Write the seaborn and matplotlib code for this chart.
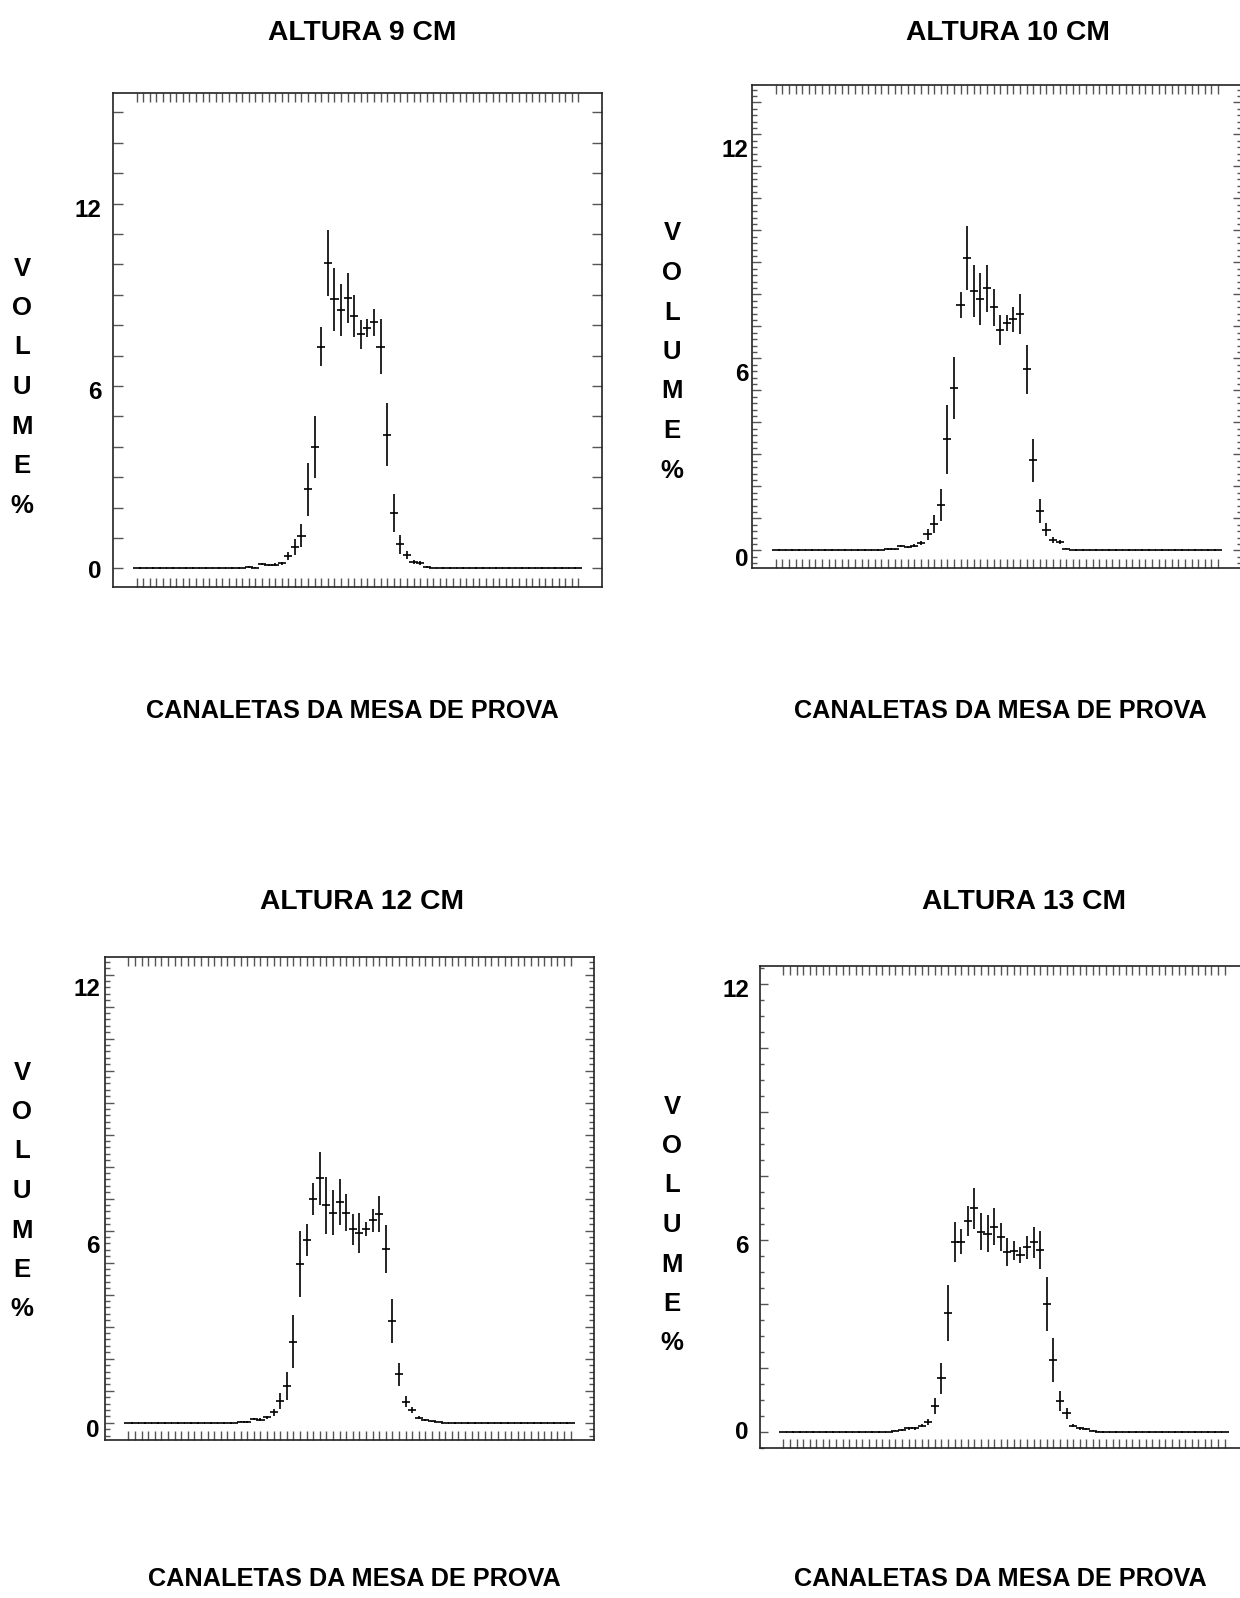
import numpy as np
import matplotlib
matplotlib.use("Agg")
import matplotlib.pyplot as plt
import matplotlib.ticker as mticker
import matplotlib.transforms as mtransforms
import seaborn as sns

sns.set_theme(style="ticks")
plt.rcParams['font.family'] = ['Liberation Sans', 'DejaVu Sans']
plt.rcParams['font.weight'] = 'bold'

# Dados: % de volume por canaleta (68 canaletas, valores a partir da canaleta 18)
N_CANALETAS = 68
PRIMEIRA = 18

titulos = ["ALTURA 9 CM", "ALTURA 10 CM", "ALTURA 12 CM", "ALTURA 13 CM"]
rotulo_x = "CANALETAS DA MESA DE PROVA"
rotulo_y = "VOLUME%"
rotulos_y = ["0", "6", "12"]

vol_9 = [0.05, 0.03, 0.15, 0.12, 0.13, 0.17, 0.40, 0.70, 1.08, 2.60, 4.00, 7.30, 10.05, 8.85,
         8.50, 8.90, 8.30, 7.70, 7.90, 8.10, 7.30, 4.40, 1.83, 0.80, 0.43, 0.22, 0.18, 0.05]
err_9 = [0.03, 0.02, 0.04, 0.04, 0.04, 0.05, 0.13, 0.26, 0.38, 0.88, 1.02, 0.64, 1.08, 1.03,
         0.86, 0.82, 0.70, 0.47, 0.30, 0.44, 0.90, 1.03, 0.63, 0.31, 0.13, 0.07, 0.06, 0.03]

vol_10 = [0.04, 0.03, 0.14, 0.11, 0.15, 0.24, 0.50, 0.83, 1.42, 3.47, 5.08, 7.66, 9.13, 8.10, 7.86,
          8.19, 7.60, 6.89, 7.09, 7.22, 7.39, 5.66, 2.82, 1.23, 0.64, 0.32, 0.25, 0.05, 0.01]
err_10 = [0.02, 0.02, 0.04, 0.04, 0.05, 0.06, 0.17, 0.29, 0.50, 1.08, 0.96, 0.40, 1.01, 0.81, 0.81,
          0.73, 0.58, 0.47, 0.25, 0.39, 0.62, 0.77, 0.67, 0.38, 0.20, 0.10, 0.06, 0.02, 0.01]

vol_12 = [0.03, 0.02, 0.11, 0.10, 0.17, 0.32, 0.68, 1.15, 2.53, 4.96, 5.70, 6.98, 7.64, 6.80, 6.56, 6.90,
          6.56, 6.04, 5.92, 6.05, 6.33, 6.52, 5.43, 3.18, 1.52, 0.66, 0.40, 0.16, 0.08, 0.04, 0.02]
err_12 = [0.02, 0.02, 0.04, 0.04, 0.05, 0.10, 0.25, 0.43, 0.83, 1.04, 0.50, 0.50, 0.83, 0.89, 0.71, 0.72,
          0.57, 0.48, 0.63, 0.21, 0.36, 0.57, 0.74, 0.68, 0.36, 0.17, 0.10, 0.04, 0.03, 0.02, 0.01]

vol_13 = [0.05, 0.07, 0.12, 0.12, 0.20, 0.33, 0.83, 1.69, 3.72, 5.94, 5.96, 6.60, 7.00, 6.27, 6.20, 6.43,
          6.11, 5.63, 5.68, 5.54, 5.78, 5.94, 5.70, 4.01, 2.26, 0.98, 0.59, 0.20, 0.12, 0.10, 0.05, 0.02]
err_13 = [0.02, 0.03, 0.04, 0.04, 0.05, 0.10, 0.25, 0.48, 0.88, 0.62, 0.40, 0.47, 0.64, 0.57, 0.58, 0.59,
          0.43, 0.44, 0.31, 0.25, 0.35, 0.48, 0.59, 0.85, 0.68, 0.30, 0.17, 0.05, 0.04, 0.03, 0.02, 0.01]

volumes = [vol_9, vol_10, vol_12, vol_13]
erros = [err_9, err_10, err_12, err_13]

# Layout de cada painel (em pixels da figura 1240x1598)
W, H = 1240, 1598
paineis = [
    dict(caixa=(113.3, 93.3, 601.7, 586.7), ylim=(-0.6, 15.63), maior=1, menor=None,
         tam=(7.2, 0), rot_pos=[-0.11, 5.78, 11.77], pad=11.5,
         titulo=(362, 33), xlab=(352, 711), ylab=(22, 387)),
    dict(caixa=(752.3, 84.7, 1241.5, 568.3), ylim=(-0.56, 14.55), maior=1, menor=0.2,
         tam=(6.8, 3.4), rot_pos=[-0.3, 5.48, 12.5], pad=4,
         titulo=(1008, 33), xlab=(1000, 711), ylab=(672, 352)),
    dict(caixa=(105, 957.3, 594, 1440), ylim=(-0.54, 14.54), maior=1, menor=0.2,
         tam=(6.8, 3.8), rot_pos=[-0.23, 5.5, 13.52], pad=5,
         titulo=(362, 902), xlab=(354, 1579), ylab=(22, 1191)),
    dict(caixa=(760, 965.7, 1248, 1448.3), ylim=(-0.5, 14.58), maior=2, menor=0.5,
         tam=(6.0, 3.1), rot_pos=[-0.01, 5.82, 13.82], pad=11,
         titulo=(1024, 902), xlab=(1000, 1579), ylab=(672, 1225)),
]

fig = plt.figure(figsize=(W / 100, H / 100), dpi=100, facecolor='white')
canaletas = np.arange(1, N_CANALETAS + 1)


def completa(valores):
    serie = np.zeros(N_CANALETAS)
    serie[PRIMEIRA - 1:PRIMEIRA - 1 + len(valores)] = valores
    return serie


for titulo, vol, err, p in zip(titulos, volumes, erros, paineis):
    x0, y0, x1, y1 = p['caixa']
    ax = fig.add_axes([x0 / W, 1 - y1 / H, (x1 - x0) / W, (y1 - y0) / H])
    ax.set_facecolor('white')

    # Histograma com barras de erro (estilo cruz)
    ax.errorbar(canaletas, completa(vol), xerr=0.62, yerr=completa(err), fmt='none',
                ecolor='black', elinewidth=1.2, capsize=0)

    ax.set_xlim(-2.55, N_CANALETAS + 3.55)
    ax.set_ylim(*p['ylim'])

    # Ticks
    ax.xaxis.set_major_locator(mticker.FixedLocator(canaletas))
    ax.xaxis.set_minor_locator(mticker.NullLocator())
    ax.tick_params(axis='x', which='major', direction='in', top=True, bottom=True,
                   labelbottom=False, labeltop=False, length=6.5, width=1.0, color='#555555')
    ax.yaxis.set_major_locator(mticker.MultipleLocator(p['maior']))
    if p['menor']:
        ax.yaxis.set_minor_locator(mticker.MultipleLocator(p['menor']))
    else:
        ax.yaxis.set_minor_locator(mticker.NullLocator())
    ax.tick_params(axis='y', which='major', direction='in', left=True, right=True,
                   labelleft=False, length=p['tam'][0], width=1.0, color='#555555')
    ax.tick_params(axis='y', which='minor', direction='in', left=True, right=True,
                   length=p['tam'][1], width=1.0, color='#555555')

    for sp in ax.spines.values():
        sp.set_linewidth(1.2)
        sp.set_color('#222222')
        sp.set_visible(True)
    ax.grid(False)

    # Rótulos do eixo y (0, 6, 12)
    trans = mtransforms.blended_transform_factory(ax.transAxes, ax.transData) + \
        mtransforms.ScaledTranslation(-p['pad'] / 100, 0, fig.dpi_scale_trans)
    for txt, pos in zip(rotulos_y, p['rot_pos']):
        ax.text(0, pos, txt, transform=trans, ha='right', va='center',
                fontsize=17.5, fontweight='bold', color='black')

    # Títulos e rótulos
    tx, ty = p['titulo']
    fig.text(tx / W, 1 - ty / H, titulo, ha='center', va='center',
             fontsize=20.3, fontweight='bold', color='black')
    lx, ly = p['xlab']
    fig.text(lx / W, 1 - ly / H, rotulo_x, ha='center', va='center',
             fontsize=18.2, fontweight='bold', color='black')
    vx, vy = p['ylab']
    for i, letra in enumerate(rotulo_y):
        fig.text(vx / W, 1 - (vy + (i - 3) * 39.5) / H, letra, ha='center', va='center',
                 fontsize=18.5, fontweight='bold', color='black')

fig.savefig('out.png', dpi=100, facecolor='white')
